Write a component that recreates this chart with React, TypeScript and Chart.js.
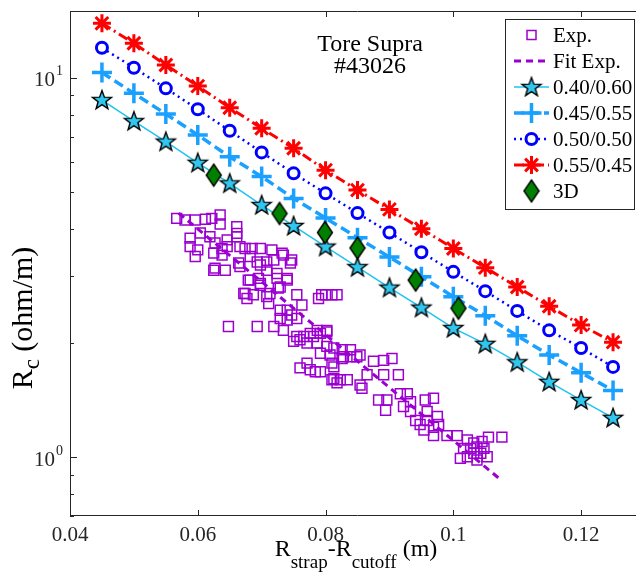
import React, { useEffect, useRef } from 'react';
import { Chart, registerables } from 'chart.js';

Chart.register(...registerables);

const FONT = '"Liberation Serif", "Times New Roman", serif';

// ---- data ----
const gapValues = [0.045, 0.05, 0.055, 0.06, 0.065, 0.07, 0.075, 0.08, 0.085, 0.09, 0.095, 0.1, 0.105, 0.11, 0.115, 0.12, 0.125];
const rc4060 = [8.74, 7.69, 6.79, 5.97, 5.27, 4.62, 4.07, 3.59, 3.17, 2.8, 2.48, 2.19, 1.99, 1.78, 1.58, 1.415, 1.27];
const rc4555 = [10.33, 9.1, 8.03, 7.07, 6.19, 5.49, 4.81, 4.27, 3.79, 3.37, 2.99, 2.65, 2.36, 2.09, 1.86, 1.67, 1.5];
const rc5050 = [12.0, 10.63, 9.38, 8.26, 7.25, 6.36, 5.6, 4.96, 4.4, 3.91, 3.47, 3.08, 2.74, 2.43, 2.16, 1.94, 1.73];
const rc5545 = [13.92, 12.33, 10.81, 9.51, 8.34, 7.36, 6.52, 5.71, 5.06, 4.5, 4.0, 3.55, 3.16, 2.81, 2.5, 2.23, 2.01];

const gap3D = [0.0625, 0.0728, 0.0799, 0.085, 0.0941, 0.1008];
const rc3D = [5.54, 4.39, 3.91, 3.56, 2.93, 2.47];

const fitGap = [0.057, 0.1075];
const fitRc = [4.4, 0.87];

const expGap = [
  0.0567, 0.058, 0.0596, 0.0612, 0.0622, 0.0635, 0.0635, 0.0661, 0.0588, 0.0588,
  0.0604, 0.0619, 0.0627, 0.0646, 0.0661, 0.0666, 0.0638, 0.0625, 0.0643, 0.0666,
  0.0685, 0.0698, 0.0716, 0.0732, 0.0747, 0.0682, 0.0698, 0.0719, 0.0708, 0.0724,
  0.0682, 0.0698, 0.0672, 0.0687, 0.0713, 0.0729, 0.074, 0.0794, 0.0818, 0.06,
  0.0596, 0.0625, 0.0638, 0.0646, 0.0661, 0.0627, 0.0664, 0.0674, 0.0734, 0.0745,
  0.0693, 0.0708, 0.0679, 0.0695, 0.0698, 0.0724, 0.074, 0.0674, 0.0677, 0.0708,
  0.0711, 0.0726, 0.0755, 0.0763, 0.0789, 0.08, 0.081, 0.0729, 0.074, 0.0747,
  0.0729, 0.074, 0.0755, 0.0693, 0.0719, 0.0734, 0.0755, 0.076, 0.0776, 0.0787,
  0.0802, 0.075, 0.0771, 0.0787, 0.0802, 0.0813, 0.0826, 0.0839, 0.0792, 0.0807,
  0.0826, 0.0839, 0.0849, 0.076, 0.0776, 0.0792, 0.0813, 0.0813, 0.0823, 0.0834,
  0.0818, 0.0766, 0.0781, 0.0792, 0.0802, 0.0771, 0.0784, 0.081, 0.0828, 0.0854,
  0.081, 0.0854, 0.0857, 0.0865, 0.0875, 0.0891, 0.0904, 0.0891, 0.0914, 0.0883,
  0.0896, 0.0894, 0.0917, 0.0928, 0.0933, 0.0922, 0.0933, 0.0941, 0.0956, 0.0969,
  0.0959, 0.0975, 0.0959, 0.0948, 0.0969, 0.0977, 0.0954, 0.0969, 0.099, 0.1006,
  0.1022, 0.1032, 0.1045, 0.1055, 0.1076, 0.1016, 0.1027, 0.1037, 0.1048, 0.1011,
  0.1022, 0.1037, 0.1053, 0.1032, 0.1043, 0.0648,
];
const expRc = [
  4.26, 4.22, 4.22, 4.24, 4.26, 4.35, 4.12, 4.05, 3.78, 3.59,
  3.9, 3.81, 3.67, 3.59, 3.81, 3.59, 3.41, 3.11, 3.11, 3.18,
  3.55, 3.55, 3.52, 3.45, 3.31, 3.38, 3.21, 3.31, 3.11, 3.05,
  2.93, 2.87, 2.7, 2.68, 2.7, 2.81, 2.93, 2.68, 2.68, 3.52,
  3.38, 3.45, 3.55, 3.74, 3.89, 3.15, 3.25, 3.55, 3.41, 3.25,
  3.27, 3.27, 2.93, 2.96, 2.84, 2.96, 2.96, 2.7, 2.62, 2.65,
  2.54, 2.79, 2.68, 2.52, 2.62, 2.68, 2.68, 2.44, 2.44, 2.37,
  2.32, 2.3, 2.32, 2.21, 2.21, 2.16, 2.08, 2.04, 2.12, 2.16,
  2.16, 2.02, 2.0, 2.0, 1.96, 1.94, 1.92, 1.92, 1.88, 1.86,
  1.82, 1.84, 1.84, 1.72, 1.7, 1.68, 1.73, 1.61, 1.6, 1.6,
  1.57, 2.08, 2.08, 2.12, 2.14, 1.77, 1.68, 1.77, 1.84, 1.86,
  1.6, 1.55, 1.52, 1.65, 1.79, 1.8, 1.82, 1.65, 1.65, 1.415,
  1.415, 1.33, 1.47, 1.47, 1.4, 1.36, 1.32, 1.25, 1.415, 1.43,
  1.32, 1.28, 1.25, 1.22, 1.2, 1.22, 1.18, 1.14, 1.14, 1.14,
  1.11, 1.09, 1.1, 1.13, 1.13, 1.055, 1.055, 1.065, 1.055, 0.993,
  1.003, 0.983, 1.003, 1.024, 1.024, 2.21,
];

const xTickValues = [0.04, 0.06, 0.08, 0.1, 0.12];
const xTickLabels = ['0.04', '0.06', '0.08', '0.1', '0.12'];
const yMajorTicks = [1, 10];
const yMajorExponents = ['0', '1'];
const yMinorTicks = [0.7, 0.8, 0.9, 2, 3, 4, 5, 6, 7, 8, 9];

const legendLabels = ['Exp.', 'Fit Exp.', '0.40/0.60', '0.45/0.55', '0.50/0.50', '0.55/0.45', '3D'];

// ---- colours ----
const PURPLE = '#9b00d0';
const CYAN = '#1ec3f0';
const CYAN_FILL = '#30c6ee';
const SKY = '#1aa0ff';
const BLUE = '#0000ff';
const RED = '#ff0000';
const GREEN = '#008000';

const W = 660;
const H = 574;

function makeStar(): HTMLCanvasElement {
  const c = document.createElement('canvas');
  c.width = 24;
  c.height = 24;
  const g = c.getContext('2d')!;
  const R = 10, r = 4.1, cx = 12, cy = 12.5;
  g.beginPath();
  for (let i = 0; i < 10; i++) {
    const rad = i % 2 === 0 ? R : r;
    const a = -Math.PI / 2 + (i * Math.PI) / 5;
    const px = cx + rad * Math.cos(a);
    const py = cy + rad * Math.sin(a);
    if (i === 0) g.moveTo(px, py);
    else g.lineTo(px, py);
  }
  g.closePath();
  g.fillStyle = CYAN_FILL;
  g.fill();
  g.lineWidth = 1.4;
  g.strokeStyle = '#000';
  g.stroke();
  return c;
}

function makeDiamond(): HTMLCanvasElement {
  const c = document.createElement('canvas');
  c.width = 18;
  c.height = 26;
  const g = c.getContext('2d')!;
  g.beginPath();
  g.moveTo(9, 2);
  g.lineTo(16.5, 13);
  g.lineTo(9, 24);
  g.lineTo(1.5, 13);
  g.closePath();
  g.fillStyle = GREEN;
  g.fill();
  g.lineWidth = 1.4;
  g.strokeStyle = '#000';
  g.stroke();
  return c;
}

type Part = { t: string; size: number; dy: number };

function drawRich(ctx: CanvasRenderingContext2D, parts: Part[], x: number, y: number) {
  let total = 0;
  for (const p of parts) {
    ctx.font = `${p.size}px ${FONT}`;
    total += ctx.measureText(p.t).width;
  }
  let cx = x - total / 2;
  ctx.textAlign = 'left';
  ctx.textBaseline = 'alphabetic';
  for (const p of parts) {
    ctx.font = `${p.size}px ${FONT}`;
    ctx.fillText(p.t, cx, y + p.dy);
    cx += ctx.measureText(p.t).width;
  }
}

function createAxesPlugin(star: HTMLCanvasElement, diamond: HTMLCanvasElement) {
  return {
    id: 'matlabAxes',
    afterDatasetsDraw(chart: any) {
      const { ctx, chartArea: a, scales } = chart;
      const xs = scales.x;
      const ys = scales.y;
      ctx.save();
      ctx.strokeStyle = '#262626';
      ctx.lineWidth = 1;
      ctx.beginPath();
      ctx.moveTo(a.left + 0.5, a.top + 0.5);
      ctx.lineTo(a.right - 0.5, a.top + 0.5);
      ctx.lineTo(a.right - 0.5, a.bottom - 0.5);
      ctx.lineTo(a.left + 0.5, a.bottom - 0.5);
      ctx.closePath();
      ctx.stroke();
      ctx.beginPath();
      for (const v of xTickValues) {
        const px = Math.round(xs.getPixelForValue(v)) + 0.5;
        ctx.moveTo(px, a.bottom);
        ctx.lineTo(px, a.bottom - 6);
        ctx.moveTo(px, a.top);
        ctx.lineTo(px, a.top + 6);
      }
      for (const v of yMajorTicks) {
        const py = Math.round(ys.getPixelForValue(v)) + 0.5;
        ctx.moveTo(a.left, py);
        ctx.lineTo(a.left + 7, py);
        ctx.moveTo(a.right, py);
        ctx.lineTo(a.right - 7, py);
      }
      for (const v of yMinorTicks) {
        const py = Math.round(ys.getPixelForValue(v)) + 0.5;
        ctx.moveTo(a.left, py);
        ctx.lineTo(a.left + 4, py);
        ctx.moveTo(a.right, py);
        ctx.lineTo(a.right - 4, py);
      }
      ctx.stroke();

      ctx.fillStyle = '#262626';
      ctx.font = `21px ${FONT}`;
      ctx.textAlign = 'center';
      ctx.textBaseline = 'alphabetic';
      xTickValues.forEach((v, i) => {
        ctx.fillText(xTickLabels[i], xs.getPixelForValue(v), a.bottom + 25);
      });
      yMajorTicks.forEach((v, i) => {
        const py = ys.getPixelForValue(v);
        ctx.font = `21px ${FONT}`;
        ctx.textAlign = 'right';
        ctx.fillText('10', a.left - 15, py + 8.5);
        ctx.font = `14px ${FONT}`;
        ctx.textAlign = 'left';
        ctx.fillText(yMajorExponents[i], a.left - 14, py - 2.5);
      });

      ctx.fillStyle = '#000';
      drawRich(
        ctx,
        [
          { t: 'R', size: 24, dy: 0 },
          { t: 'strap', size: 19, dy: 12 },
          { t: '-R', size: 24, dy: 0 },
          { t: 'cutoff', size: 19, dy: 12 },
          { t: ' (m)', size: 24, dy: 0 },
        ],
        356,
        a.bottom + 40
      );
      ctx.save();
      ctx.translate(32, 318);
      ctx.rotate(-Math.PI / 2);
      drawRich(
        ctx,
        [
          { t: 'R', size: 30, dy: 0 },
          { t: 'c', size: 23, dy: 7 },
          { t: ' (ohm/m)', size: 30, dy: 0 },
        ],
        0,
        0
      );
      ctx.restore();

      ctx.font = `24px ${FONT}`;
      ctx.textAlign = 'center';
      ctx.fillText('Tore Supra', 370, 51);
      ctx.fillText('#43026', 370, 73);
      ctx.restore();
    },
    afterDraw(chart: any) {
      const { ctx } = chart;
      ctx.save();
      const bx = 505.5, by = 19.5, bw = 129, bh = 190;
      ctx.fillStyle = '#fff';
      ctx.fillRect(bx, by, bw, bh);
      ctx.strokeStyle = '#262626';
      ctx.lineWidth = 1;
      ctx.strokeRect(bx, by, bw, bh);

      const rowY = (i: number) => 35 + i * 26;
      const l0 = 514, l1 = 549, mx = 531.5, tx = 553;

      const line = (y: number, color: string, width: number, dash: number[]) => {
        ctx.save();
        ctx.strokeStyle = color;
        ctx.lineWidth = width;
        ctx.setLineDash(dash);
        ctx.beginPath();
        ctx.moveTo(l0, y);
        ctx.lineTo(l1, y);
        ctx.stroke();
        ctx.restore();
      };

      let y = rowY(0);
      ctx.strokeStyle = PURPLE;
      ctx.lineWidth = 1.5;
      ctx.strokeRect(mx - 4.5, y - 4.5, 9, 9);
      y = rowY(1);
      line(y, PURPLE, 3, [7, 5]);
      y = rowY(2);
      line(y, CYAN, 1.5, []);
      ctx.drawImage(star, mx - star.width / 2, y - star.height / 2);
      y = rowY(3);
      line(y, SKY, 3.5, [10, 5]);
      ctx.strokeStyle = SKY;
      ctx.lineWidth = 3.5;
      ctx.beginPath();
      ctx.moveTo(mx - 10, y);
      ctx.lineTo(mx + 10, y);
      ctx.moveTo(mx, y - 10);
      ctx.lineTo(mx, y + 10);
      ctx.stroke();
      y = rowY(4);
      line(y, BLUE, 2.5, [2, 4]);
      ctx.fillStyle = '#fff';
      ctx.strokeStyle = BLUE;
      ctx.lineWidth = 3;
      ctx.beginPath();
      ctx.arc(mx, y, 5.5, 0, Math.PI * 2);
      ctx.fill();
      ctx.stroke();
      y = rowY(5);
      line(y, RED, 3, [10, 4, 2, 4]);
      ctx.strokeStyle = RED;
      ctx.lineWidth = 3;
      ctx.beginPath();
      const r = 9;
      for (let k = 0; k < 4; k++) {
        const ang = (k * Math.PI) / 4;
        ctx.moveTo(mx - r * Math.cos(ang), y - r * Math.sin(ang));
        ctx.lineTo(mx + r * Math.cos(ang), y + r * Math.sin(ang));
      }
      ctx.stroke();
      y = rowY(6);
      ctx.drawImage(diamond, mx - diamond.width / 2, y - diamond.height / 2);

      ctx.fillStyle = '#000';
      ctx.font = `21px ${FONT}`;
      ctx.textAlign = 'left';
      ctx.textBaseline = 'middle';
      legendLabels.forEach((lab, i) => ctx.fillText(lab, tx, rowY(i) + 1));
      ctx.restore();
    },
  };
}

export default function App() {
  const ref = useRef<HTMLCanvasElement | null>(null);
  useEffect(() => {
    if (!ref.current) return;
    const star = makeStar();
    const diamond = makeDiamond();
    const pts = (xs: number[], ys: number[]) => xs.map((x, i) => ({ x, y: ys[i] }));
    const chart = new Chart(ref.current, {
      type: 'scatter',
      data: {
        datasets: [
          {
            label: '3D',
            data: pts(gap3D, rc3D),
            pointStyle: diamond as any,
            showLine: false,
            order: 0,
          },
          {
            label: '0.55/0.45',
            data: pts(gapValues, rc5545),
            showLine: true,
            borderColor: RED,
            borderWidth: 3,
            borderDash: [10, 4, 2, 4],
            pointStyle: 'star',
            pointRadius: 9,
            pointBorderWidth: 3,
            pointBorderColor: RED,
            pointBackgroundColor: RED,
            tension: 0,
            order: 1,
          },
          {
            label: '0.50/0.50',
            data: pts(gapValues, rc5050),
            showLine: true,
            borderColor: BLUE,
            borderWidth: 2.5,
            borderDash: [2, 4],
            pointStyle: 'circle',
            pointRadius: 5.5,
            pointBorderWidth: 3,
            pointBorderColor: BLUE,
            pointBackgroundColor: '#ffffff',
            tension: 0,
            order: 2,
          },
          {
            label: '0.45/0.55',
            data: pts(gapValues, rc4555),
            showLine: true,
            borderColor: SKY,
            borderWidth: 3.5,
            borderDash: [10, 5],
            pointStyle: 'cross',
            pointRadius: 10,
            pointBorderWidth: 3.5,
            pointBorderColor: SKY,
            tension: 0,
            order: 3,
          },
          {
            label: '0.40/0.60',
            data: pts(gapValues, rc4060),
            showLine: true,
            borderColor: CYAN,
            borderWidth: 1.5,
            pointStyle: star as any,
            tension: 0,
            order: 4,
          },
          {
            label: 'Fit Exp.',
            data: pts(fitGap, fitRc),
            showLine: true,
            borderColor: PURPLE,
            borderWidth: 3,
            borderDash: [7, 5],
            pointRadius: 0,
            tension: 0,
            order: 5,
          },
          {
            label: 'Exp.',
            data: pts(expGap, expRc),
            showLine: false,
            pointStyle: 'rect',
            pointRadius: 7,
            pointBorderWidth: 1.5,
            pointBorderColor: PURPLE,
            pointBackgroundColor: 'rgba(0,0,0,0)',
            order: 6,
          },
        ],
      },
      options: {
        animation: false,
        responsive: false,
        devicePixelRatio: 1,
        layout: { padding: { left: 70, top: 11, right: W - 645, bottom: H - 516 }, autoPadding: false },
        plugins: { legend: { display: false }, tooltip: { enabled: false } },
        events: [],
        scales: {
          x: { type: 'linear', min: 0.04, max: 0.13, display: false },
          y: { type: 'logarithmic', min: 0.7, max: 15, display: false },
        },
      } as any,
      plugins: [createAxesPlugin(star, diamond)],
    });
    return () => chart.destroy();
  }, []);
  return (
    <div style={{ position: 'fixed', left: 0, top: 0, width: 636, height: 574, overflow: 'hidden', background: '#fff' }}>
      <canvas ref={ref} width={W} height={H} style={{ display: 'block', width: W, height: H }} />
    </div>
  );
}
